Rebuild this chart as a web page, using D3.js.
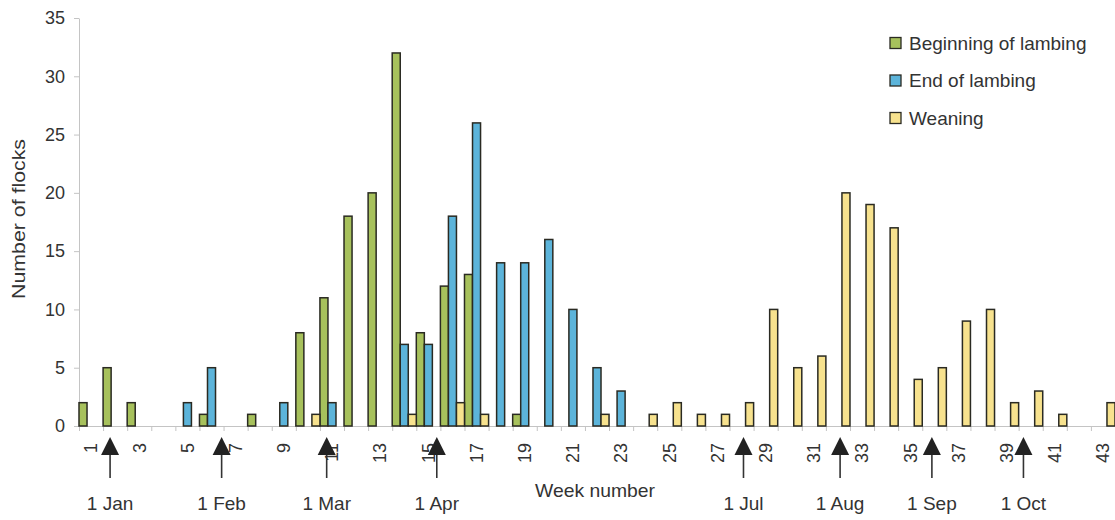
<!DOCTYPE html>
<html>
<head>
<meta charset="utf-8">
<script src="https://cdn.jsdelivr.net/npm/d3@7/dist/d3.min.js"></script>
<style>
  body { margin: 0; background: #fff; }
  svg text { font-family: "Liberation Sans", Arial, sans-serif; fill: #333; }
</style>
</head>
<body>
<svg id="chart" width="1115" height="520"></svg>
<script>
// Week numbers on the category axis
const weeks = d3.range(1, 44);

// Number of flocks per week
const beginningOfLambing = [2, 5, 2, 0, 0, 1, 0, 1, 0, 8, 11, 18, 20, 32, 8, 12, 13, 0, 1, 0,
  0, 0, 0, 0, 0, 0, 0, 0, 0, 0, 0, 0, 0, 0, 0, 0, 0, 0, 0, 0, 0, 0, 0];
const endOfLambing = [0, 0, 0, 0, 2, 5, 0, 0, 2, 0, 2, 0, 0, 7, 7, 18, 26, 14, 14, 16,
  10, 5, 3, 0, 0, 0, 0, 0, 0, 0, 0, 0, 0, 0, 0, 0, 0, 0, 0, 0, 0, 0, 0];
const weaning = [0, 0, 0, 0, 0, 0, 0, 0, 0, 1, 0, 0, 0, 1, 0, 2, 1, 0, 0, 0,
  0, 1, 0, 1, 2, 1, 1, 2, 10, 5, 6, 20, 19, 17, 4, 5, 9, 10, 2, 3, 1, 0, 2];

const seriesNames = ["Beginning of lambing", "End of lambing", "Weaning"];
const seriesColors = ["#a7c15c", "#5cb4da", "#f7e28e"];

const yTicks = [0, 5, 10, 15, 20, 25, 30, 35];
const weekLabels = weeks.filter(w => w % 2 === 1);

// Calendar markers placed on the week axis
const monthNames = ["1 Jan", "1 Feb", "1 Mar", "1 Apr", "1 Jul", "1 Aug", "1 Sep", "1 Oct"];
const monthWeeks = [1.79, 6.42, 10.78, 15.35, 28.08, 32.09, 35.9, 39.7];

const series = [beginningOfLambing, endOfLambing, weaning];

const svg = d3.select("#chart");
const plotLeft = 79, plotRight = 1115, plotTop = 18, plotBottom = 426;

const x = d3.scaleBand().domain(weeks).range([plotLeft, plotRight]).padding(0);
const xInner = d3.scaleBand().domain(d3.range(series.length)).range([0, x.bandwidth()]).padding(0);
const xWeek = d3.scaleLinear().domain([0.5, 43.5]).range([plotLeft, plotRight]);
const y = d3.scaleLinear().domain([0, 35]).range([plotBottom, plotTop]);

// Y axis
const yAxis = svg.append("g")
  .attr("transform", `translate(${plotLeft},0)`)
  .call(d3.axisLeft(y).tickValues(yTicks).tickSize(5).tickSizeOuter(0).tickPadding(9));
yAxis.select(".domain").attr("stroke", "#c4c4c4");
yAxis.selectAll(".tick line").attr("stroke", "#c4c4c4");
yAxis.selectAll(".tick text").attr("font-size", 18).attr("fill", "#3a3a3a")
  .style("font-family", "'Liberation Sans', Arial, sans-serif");

// X axis line with ticks between categories
const xAxis = svg.append("g")
  .attr("transform", `translate(0,${plotBottom})`)
  .call(d3.axisBottom(xWeek).tickValues(d3.range(0.5, 44, 1)).tickSize(5).tickSizeOuter(0).tickFormat(""));
xAxis.select(".domain").attr("stroke", "#c4c4c4");
xAxis.selectAll(".tick line").attr("stroke", "#c4c4c4");

// Bars
series.forEach((vals, i) => {
  svg.append("g")
    .selectAll("rect")
    .data(weeks.map((w, j) => ({ w, v: vals[j] })).filter(d => d.v > 0))
    .join("rect")
    .attr("x", d => x(d.w) + xInner(i))
    .attr("width", xInner.bandwidth())
    .attr("y", d => y(d.v))
    .attr("height", d => y(0) - y(d.v))
    .attr("fill", seriesColors[i])
    .attr("stroke", "#2a2a22")
    .attr("stroke-width", 1.5);
});

// Rotated week labels
svg.append("g")
  .selectAll("text")
  .data(weekLabels)
  .join("text")
  .attr("transform", d => `translate(${x(d) + x.bandwidth() / 2},443) rotate(-90)`)
  .attr("text-anchor", "end")
  .attr("dy", "0.35em")
  .attr("font-size", 18)
  .attr("fill", "#3a3a3a")
  .text(d => d);

// Date markers: arrows and labels
const markers = svg.append("g")
  .selectAll("g")
  .data(monthNames.map((m, i) => ({ m, w: monthWeeks[i] })))
  .join("g")
  .attr("transform", d => `translate(${xWeek(d.w)},0)`);
markers.append("line")
  .attr("x1", 0).attr("x2", 0).attr("y1", 452).attr("y2", 478)
  .attr("stroke", "#333").attr("stroke-width", 1.6);
markers.append("path")
  .attr("d", "M0,437 L9,455 L-9,455 Z")
  .attr("fill", "#222");
markers.append("text")
  .attr("y", 503)
  .attr("dy", "0.35em")
  .attr("text-anchor", "middle")
  .attr("font-size", 19)
  .text(d => d.m);

// Axis titles
svg.append("text")
  .attr("transform", "translate(18,219) rotate(-90)")
  .attr("text-anchor", "middle")
  .attr("dy", "0.35em")
  .attr("font-size", 19)
  .attr("textLength", 160)
  .attr("lengthAdjust", "spacingAndGlyphs")
  .text("Number of flocks");

svg.append("text")
  .attr("x", 595).attr("y", 490)
  .attr("dy", "0.35em")
  .attr("text-anchor", "middle")
  .attr("font-size", 19)
  .attr("textLength", 120)
  .attr("lengthAdjust", "spacingAndGlyphs")
  .text("Week number");

// Legend
const legend = svg.append("g")
  .selectAll("g")
  .data(seriesNames)
  .join("g")
  .attr("transform", (d, i) => `translate(890,${43 + i * 37.5})`);
legend.append("rect")
  .attr("x", 0).attr("y", -5.5).attr("width", 11).attr("height", 11)
  .attr("fill", (d, i) => seriesColors[i])
  .attr("stroke", "#2a2a22").attr("stroke-width", 1.3);
legend.append("text")
  .attr("x", 19)
  .attr("dy", "0.35em")
  .attr("font-size", 19)
  .text(d => d);
</script>
</body>
</html>
